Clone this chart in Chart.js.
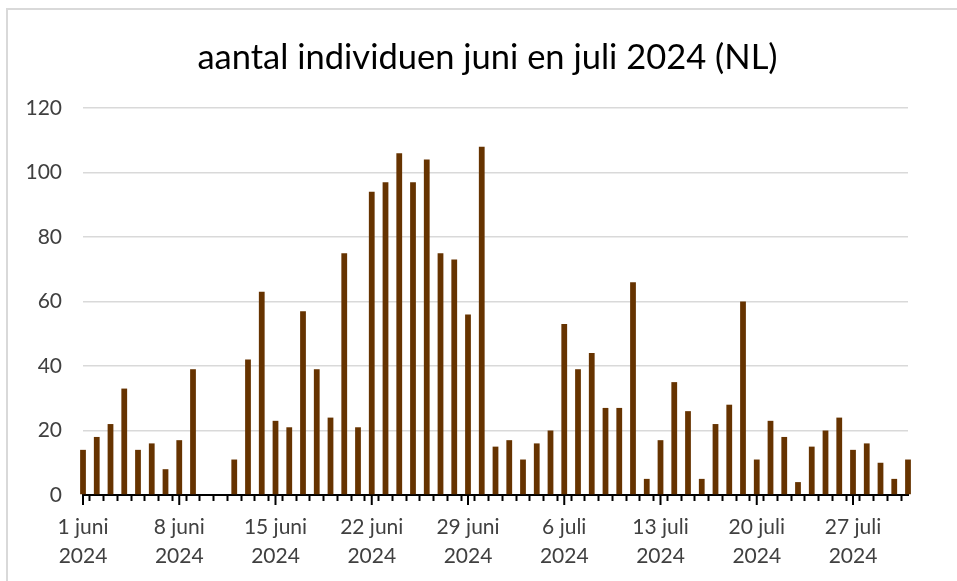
<!DOCTYPE html>
<html>
<head>
<meta charset="utf-8">
<script src="https://cdn.jsdelivr.net/npm/chart.js@4"></script>
<style>
  html, body { margin: 0; padding: 0; background: #fff; overflow: hidden; }
  #frame { position: absolute; left: 6px; top: 8px; width: 1000px; height: 700px; border: 2px solid #d9d9d9; }
  #wrap { position: absolute; left: 0; top: 0; width: 957px; height: 581px; }
</style>
</head>
<body>
<div id="frame"></div>
<div id="wrap"><canvas id="chart"></canvas></div>
<script>
const juneValues = [14, 18, 22, 33, 14, 16, 8, 17, 39, 0,
    0, 11, 42, 63, 23, 21, 57, 39, 24, 75,
    21, 94, 97, 106, 97, 104, 75, 73, 56, 108];
const julyValues = [15, 17, 11, 16, 20, 53, 39, 44, 27, 27,
    66, 5, 17, 35, 26, 5, 22, 28, 60, 11,
    23, 18, 4, 15, 20, 24, 14, 16, 10, 5, 11];
const tickLabels = ['1 juni', '8 juni', '15 juni', '22 juni', '29 juni',
    '6 juli', '13 juli', '20 juli', '27 juli'];
const yearLabel = '2024';

// one category per day
let categories = [];
juneValues.forEach((v, i) => categories.push(`${i + 1} juni`));
julyValues.forEach((v, i) => categories.push(`${i + 1} juli`));
const values = juneValues.concat(julyValues);

const FONT = 'Lato, "Open Sans", sans-serif';

// longer tick marks under the labelled days
const longTicks = {
    id: 'longTicks',
    afterDraw(chart) {
        const x = chart.scales.x;
        const ctx = chart.ctx;
        ctx.save();
        ctx.strokeStyle = '#000';
        ctx.lineWidth = 2;
        categories.forEach((c, i) => {
            if (!tickLabels.includes(c)) return;
            const px = x.getPixelForValue(i);
            ctx.beginPath();
            ctx.moveTo(px, x.top);
            ctx.lineTo(px, x.top + 10);
            ctx.stroke();
        });
        ctx.restore();
    }
};

const config = {
    type: 'bar',
    data: {
        labels: categories,
        datasets: [{
            label: 'aantal individuen',
            data: values,
            backgroundColor: '#663300',
            barPercentage: 0.42,
            categoryPercentage: 1,
            clip: false
        }]
    },
    options: {
        responsive: true,
        maintainAspectRatio: false,
        animation: false,
        layout: { padding: { left: 18, right: 0, top: 0, bottom: 0 } },
        plugins: {
            legend: { display: false },
            tooltip: { enabled: false },
            title: {
                display: true,
                text: 'aantal individuen juni en juli 2024 (NL)',
                color: '#000',
                font: { family: FONT, size: 34.5, weight: 'normal' },
                padding: { top: 37, bottom: 29.6 }
            }
        },
        scales: {
            x: {
                offset: false,
                grid: {
                    drawOnChartArea: false,
                    drawTicks: true,
                    tickLength: 6,
                    tickColor: '#000',
                    tickWidth: 2
                },
                border: { color: '#000', width: 2 },
                ticks: {
                    autoSkip: false,
                    maxRotation: 0,
                    minRotation: 0,
                    padding: 12,
                    color: '#404040',
                    font: { family: FONT, size: 21, lineHeight: 1.38 },
                    callback: (val, i) => tickLabels.includes(categories[i]) ? [categories[i], yearLabel] : ''
                },
                afterFit: (scale) => { scale.height = 86; }
            },
            y: {
                min: 0,
                max: 120,
                ticks: {
                    stepSize: 20,
                    padding: 21,
                    color: '#404040',
                    font: { family: FONT, size: 21 }
                },
                grid: { color: '#d9d9d9', lineWidth: 1.5, drawTicks: false },
                border: { display: false },
                afterFit: (scale) => { scale.width = 65; }
            },
            // empty right-hand gutter
            yRight: {
                position: 'right',
                display: true,
                grid: { display: false },
                ticks: { display: false },
                border: { display: false },
                afterFit: (scale) => { scale.width = 49; }
            }
        }
    },
    plugins: [longTicks]
};

const chart = new Chart(document.getElementById('chart'), config);
</script>
</body>
</html>
